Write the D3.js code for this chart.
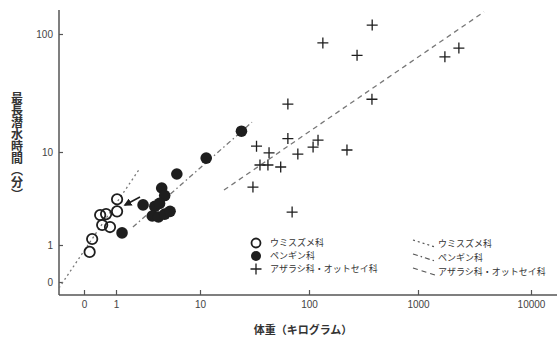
<!DOCTYPE html>
<html>
<head>
<meta charset="utf-8">
<script src="https://cdn.jsdelivr.net/npm/d3@7"></script>
<style>
  body { margin: 0; background: #fff; }
  text { font-family: "Noto Sans CJK JP", "Noto Sans", sans-serif; }
</style>
</head>
<body>
<div id="chart"></div>
<script>
// body mass (kg) / max dive time (min)
var alcids = [
    [1.03, 3.1], [1.03, 2.3], [0.32, 2.1], [0.49, 2.15],
    [0.37, 1.64], [0.65, 1.56], [0.18, 1.16], [0.15, 0.65]
];
var penguins = [
    [1.18, 1.35], [2.1, 2.7], [2.9, 2.6], [3.5, 4.1], [3.8, 3.4],
    [3.3, 2.8], [2.7, 2.05], [3.2, 2.0], [3.8, 2.15], [4.4, 2.3],
    [5.3, 5.8], [11.4, 8.6], [24, 15]
];
var seals = [
    [380, 119], [134, 84], [276, 66], [378, 28], [64, 25.5],
    [64, 13], [121, 12.6], [33, 11.2], [109, 11], [43, 9.8],
    [79, 9.5], [223, 10.4], [35.5, 7.25], [42, 7.25], [55, 6.9],
    [30.6, 4.2], [70, 2.26], [1730, 64], [2300, 76]
];
// regression lines, end points
var alcidLine = [[0.0165, 0.069], [1.93, 6.7]];
var penguinLine = [[1.59, 1.56], [30, 17.9]];
var sealLine = [[16.6, 3.9], [3840, 154]];
var arrowPts = [[1.93, 3.28], [1.28, 2.69]];

// axis ticks (log10 positions) and their printed labels
var xTicks = [-1, 0, 1, 2, 3, 4];
var xLabels = ["0", "1", "10", "100", "1000", "10000"];
var yTicks = [-1, 0, 1, 2];
var yLabels = ["0", "1", "10", "100"];

var legendNames = ["ウミスズメ科", "ペンギン科", "アザラシ科・オットセイ科"];

var width = 557, height = 340;

var svg = d3.select("#chart").append("svg")
    .attr("width", width)
    .attr("height", height);

// the printed decades are not evenly spaced, so piecewise scales on log10
var xs = d3.scaleLinear().domain(xTicks).range([84, 116, 200, 309, 418, 531]);
var ys = d3.scaleLinear().domain(yTicks).range([282, 245, 152, 34]);
function x(v) { return xs(Math.log10(v)); }
function y(v) { return ys(Math.log10(v)); }

var axisColor = "#555";
var ink = "#1e1e1e";

// axis lines
svg.append("line")
    .attr("x1", 59).attr("x2", 557)
    .attr("y1", 295).attr("y2", 295)
    .attr("stroke", axisColor).attr("stroke-width", 1.5);
svg.append("line")
    .attr("x1", 59).attr("x2", 59)
    .attr("y1", 10).attr("y2", 295)
    .attr("stroke", axisColor).attr("stroke-width", 1.5);

var xAxis = svg.append("g")
    .attr("transform", "translate(0,295)")
    .call(d3.axisBottom(xs).tickValues(xTicks)
        .tickFormat(function(d, i) { return xLabels[i]; })
        .tickSizeInner(-5).tickSizeOuter(0).tickPadding(6));
var yAxis = svg.append("g")
    .attr("transform", "translate(59,0)")
    .call(d3.axisLeft(ys).tickValues(yTicks)
        .tickFormat(function(d, i) { return yLabels[i]; })
        .tickSizeInner(-4).tickSizeOuter(0).tickPadding(6));

[xAxis, yAxis].forEach(function(g) {
    g.select(".domain").remove();
    g.selectAll("line").attr("stroke", axisColor).attr("stroke-width", 1.2);
    g.selectAll("text")
        .attr("fill", "#444")
        .style("font-size", "10px")
        .style("font-family", "'Liberation Sans', sans-serif");
});

// axis titles
svg.append("text")
    .attr("x", 303)
    .attr("y", 334)
    .attr("text-anchor", "middle")
    .attr("fill", "#333")
    .style("font-size", "11px")
    .style("font-weight", "bold")
    .text("体重（キログラム）");

svg.append("text")
    .attr("x", 17)
    .attr("y", 92)
    .attr("fill", "#333")
    .style("writing-mode", "vertical-rl")
    .style("font-size", "12px")
    .style("font-weight", "bold")
    .text("最長潜水時間（分）");

// regression lines
var lineColor = "#777";
function drawFit(pts, dash) {
    svg.append("line")
        .attr("x1", x(pts[0][0])).attr("y1", y(pts[0][1]))
        .attr("x2", x(pts[1][0])).attr("y2", y(pts[1][1]))
        .attr("stroke", lineColor)
        .attr("stroke-width", 1.3)
        .attr("stroke-dasharray", dash);
}
var dashes = ["2,3", "5,3,1.5,3", "5,4"];
drawFit(alcidLine, dashes[0]);
drawFit(penguinLine, dashes[1]);
drawFit(sealLine, dashes[2]);

// points
svg.selectAll(".alcid")
    .data(alcids)
    .enter().append("circle")
    .attr("class", "alcid")
    .attr("cx", function(d) { return x(d[0]); })
    .attr("cy", function(d) { return y(d[1]); })
    .attr("r", 5.2)
    .attr("fill", "none")
    .attr("stroke", ink)
    .attr("stroke-width", 1.8);

svg.selectAll(".penguin")
    .data(penguins)
    .enter().append("circle")
    .attr("class", "penguin")
    .attr("cx", function(d) { return x(d[0]); })
    .attr("cy", function(d) { return y(d[1]); })
    .attr("r", 5.8)
    .attr("fill", ink);

function crossPath(cx, cy, s) {
    return "M" + (cx - s) + "," + cy + "H" + (cx + s) + "M" + cx + "," + (cy - s) + "V" + (cy + s);
}
svg.selectAll(".seal")
    .data(seals)
    .enter().append("path")
    .attr("class", "seal")
    .attr("d", function(d) { return crossPath(x(d[0]), y(d[1]), 5.5); })
    .attr("stroke", ink)
    .attr("stroke-width", 1.3);

// arrow
svg.append("defs").append("marker")
    .attr("id", "head")
    .attr("viewBox", "0 0 10 10")
    .attr("refX", 8).attr("refY", 5)
    .attr("markerWidth", 5).attr("markerHeight", 5)
    .attr("orient", "auto")
    .append("path")
    .attr("d", "M0,0L10,5L0,10Z")
    .attr("fill", ink);
svg.append("line")
    .attr("x1", x(arrowPts[0][0])).attr("y1", y(arrowPts[0][1]))
    .attr("x2", x(arrowPts[1][0])).attr("y2", y(arrowPts[1][1]))
    .attr("stroke", ink)
    .attr("stroke-width", 1.6)
    .attr("marker-end", "url(#head)");

// legend: symbols
var legRows = [243, 256, 269];
var leg = svg.append("g");
leg.append("circle").attr("cx", 256).attr("cy", legRows[0]).attr("r", 4.5)
    .attr("fill", "none").attr("stroke", ink).attr("stroke-width", 1.8);
leg.append("circle").attr("cx", 256).attr("cy", legRows[1]).attr("r", 5)
    .attr("fill", ink);
leg.append("path").attr("d", crossPath(256, legRows[2], 5.5))
    .attr("stroke", ink).attr("stroke-width", 1.3);
leg.selectAll(".ltext")
    .data(legendNames)
    .enter().append("text")
    .attr("x", 270)
    .attr("y", function(d, i) { return legRows[i]; })
    .attr("dy", "0.35em")
    .attr("fill", "#333")
    .style("font-size", "9px")
    .text(function(d) { return d; });

// legend: line styles
var legRows2 = [244, 258, 272];
legendNames.forEach(function(name, i) {
    leg.append("line")
        .attr("x1", 413).attr("y1", legRows2[i] - 4)
        .attr("x2", 435).attr("y2", legRows2[i] + 3)
        .attr("stroke", "#555")
        .attr("stroke-width", 1.2)
        .attr("stroke-dasharray", dashes[i]);
    leg.append("text")
        .attr("x", 438)
        .attr("y", legRows2[i])
        .attr("dy", "0.35em")
        .attr("fill", "#333")
        .style("font-size", "9px")
        .text(name);
});
</script>
</body>
</html>
